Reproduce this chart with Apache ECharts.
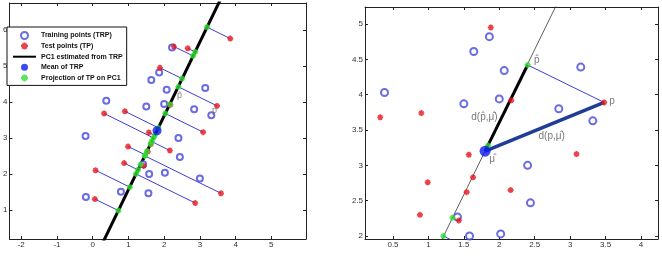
<!DOCTYPE html>
<html>
<head>
<meta charset="utf-8">
<script src="https://cdn.jsdelivr.net/npm/echarts@6/dist/echarts.min.js"></script>
<style>
  html, body { margin: 0; padding: 0; background: #fff; }
  #chart { width: 662px; height: 259px; }
</style>
</head>
<body>
<div id="chart"></div>
<script>
// training points (TRP)
const trainPoints = [
  [-0.2, 3.05], [-0.19, 1.36], [0.38, 4.03], [0.79, 1.5], [1.5, 3.87],
  [1.56, 1.46], [1.58, 2.0], [1.64, 4.61], [1.86, 4.82], [2.0, 3.94],
  [2.02, 2.03], [2.07, 4.34], [2.22, 5.51], [2.4, 3.0], [2.44, 2.47],
  [2.84, 3.8], [3.0, 1.87], [3.15, 4.39], [3.32, 3.63], [1.41, 2.27]
];
// test points (TP)
const testPoints = [
  [3.85, 5.76], [2.27, 5.54], [2.66, 5.49], [1.88, 4.95], [2.17, 3.92],
  [3.48, 3.89], [0.9, 3.74], [0.32, 3.68], [1.57, 3.15], [3.09, 3.16],
  [2.16, 2.65], [1.63, 2.83], [0.99, 2.76], [1.54, 2.62], [0.88, 2.3],
  [1.43, 2.22], [0.08, 2.1], [3.59, 1.46], [0.06, 1.3], [2.87, 1.19]
];
// green projections on PC1, same order as testPoints
const projPoints = [
  [3.2, 6.08], [2.81, 5.28], [2.87, 5.39], [2.5, 4.65], [2.16, 3.93],
  [2.4, 4.42], [1.84, 3.28], [1.7, 3.0], [1.74, 3.07], [2.03, 3.68],
  [1.65, 2.9], [1.62, 2.83], [1.47, 2.53], [1.52, 2.63], [1.27, 2.11],
  [1.34, 2.26], [1.04, 1.63], [1.46, 2.5], [0.72, 0.98], [1.21, 2.0]
];
const meanPoint = [1.8, 3.2];
const pc1Ends = [[0.24, 0], [3.65, 7]];
// which projections show up in the zoomed panel, and which one is p
const zoomProj = [5, 6, 15, 19];
const zoomLines = [15, 19];
const pIdx = 5;

const leftXTicks = [-2, -1, 0, 1, 2, 3, 4, 5];
const leftYTicks = [1, 2, 3, 4, 5, 6];
const rightXTicks = [0.5, 1, 1.5, 2, 2.5, 3, 3.5, 4];
const rightYTicks = [2, 2.5, 3, 3.5, 4, 4.5, 5];

const leftTexts = [
  { name: 'p\u0302', value: [2.43, 4.17] },
  { name: 'p', value: [3.41, 3.75] }
];
const rightTexts = [
  { name: 'p\u0302', value: [2.53, 4.49] },
  { name: 'p', value: [3.59, 3.9] },
  { name: '\u03bc\u0302', value: [1.9, 3.08] },
  { name: 'd(p\u0302,\u03bc\u0302)', value: [1.79, 3.68] },
  { name: 'd(p,\u03bc\u0302)', value: [2.74, 3.41] }
];

const FONT = '"Liberation Sans", Arial, sans-serif';
const STAR = 'path://M3.6,0h2.8v10h-2.8z M0,3.6h10v2.8h-10z M0.6,2.6L2.6,0.6L9.4,7.4L7.4,9.4z M7.4,0.6L9.4,2.6L2.6,9.4L0.6,7.4z';
const BLUE_LINE = '#3c3cd8';
const RED = '#e5141c';
const GREEN = '#30e030';
const CIRCLE = '#4646dc';

function ax(grid, min, max, ticks, pos) {
  return {
    type: 'value', gridIndex: grid, min: min, max: max, position: pos,
    axisLine: { show: true, onZero: false, lineStyle: { color: '#222', width: 1 } },
    axisTick: { show: true, inside: true, length: 3, customValues: ticks, lineStyle: { color: '#222' } },
    axisLabel: { show: pos === 'bottom' || pos === 'left', customValues: ticks,
                 margin: 2, fontSize: 8, color: '#333', fontFamily: FONT },
    splitLine: { show: false }
  };
}

function segs(idx) {
  return idx.map(i => ({ coords: [testPoints[i], projPoints[i]] }));
}

const allIdx = testPoints.map((_, i) => i);

const option = {
  animation: false,
  grid: [
    { left: 7, top: 3, width: 299, height: 236, show: false },
    { left: 365, top: 7, width: 293, height: 232, show: false }
  ],
  xAxis: [
    ax(0, -2.33, 5.97, leftXTicks, 'bottom'),
    ax(0, -2.33, 5.97, leftXTicks, 'top'),
    ax(1, 0.105, 4.24, rightXTicks, 'bottom'),
    ax(1, 0.105, 4.24, rightXTicks, 'top')
  ],
  yAxis: [
    ax(0, 0.19, 6.75, leftYTicks, 'left'),
    ax(0, 0.19, 6.75, leftYTicks, 'right'),
    ax(1, 1.958, 5.24, rightYTicks, 'left'),
    ax(1, 1.958, 5.24, rightYTicks, 'right')
  ],
  legend: {
    orient: 'vertical', left: 7, top: 27,
    padding: [4, 4, 3, 5], itemGap: 1.6, itemWidth: 23, itemHeight: 7,
    backgroundColor: '#fff', borderColor: '#111', borderWidth: 1, borderRadius: 0,
    textStyle: { fontSize: 7, fontWeight: 'bold', color: '#111', fontFamily: FONT, lineHeight: 9 },
    data: ['Training points (TRP)', 'Test points (TP)', 'PC1 estimated from TRP',
           'Mean of TRP', 'Projection of TP on PC1']
  },
  series: [
    // ---- left panel ----
    { type: 'lines', coordinateSystem: 'cartesian2d', xAxisIndex: 0, yAxisIndex: 0,
      clip: true, silent: true, z: 2,
      lineStyle: { color: BLUE_LINE, width: 1, opacity: 1 }, data: segs(allIdx) },
    { name: 'PC1 estimated from TRP', type: 'line', xAxisIndex: 0, yAxisIndex: 0,
      data: pc1Ends, symbol: 'none', clip: true, z: 3,
      lineStyle: { color: '#000', width: 3 }, itemStyle: { color: '#000', opacity: 0 } },
    { name: 'Training points (TRP)', type: 'scatter', xAxisIndex: 0, yAxisIndex: 0,
      data: trainPoints, symbol: 'emptyCircle', symbolSize: 6, z: 4,
      itemStyle: { color: CIRCLE, borderColor: CIRCLE, borderWidth: 1 } },
    { name: 'Test points (TP)', type: 'scatter', xAxisIndex: 0, yAxisIndex: 0,
      data: testPoints, symbol: STAR, symbolSize: 6, z: 5, itemStyle: { color: RED } },
    { name: 'Projection of TP on PC1', type: 'scatter', xAxisIndex: 0, yAxisIndex: 0,
      data: projPoints, symbol: STAR, symbolSize: 6, z: 5, itemStyle: { color: GREEN } },
    { name: 'Mean of TRP', type: 'scatter', xAxisIndex: 0, yAxisIndex: 0,
      data: [meanPoint], symbol: 'circle', symbolSize: 9, z: 6, itemStyle: { color: '#0a1af0' } },
    { type: 'scatter', xAxisIndex: 0, yAxisIndex: 0, data: leftTexts, symbolSize: 0, z: 7,
      label: { show: true, position: 'inside', formatter: '{b}', fontSize: 9, color: '#666', fontFamily: FONT } },

    // ---- right panel (zoom) ----
    { type: 'line', xAxisIndex: 2, yAxisIndex: 2, data: pc1Ends, symbol: 'none', clip: true, z: 2,
      lineStyle: { color: '#333', width: 0.8 } },
    { type: 'lines', coordinateSystem: 'cartesian2d', xAxisIndex: 2, yAxisIndex: 2,
      clip: true, silent: true, z: 2,
      lineStyle: { color: BLUE_LINE, width: 1, opacity: 1 }, data: segs(zoomLines.concat([pIdx])) },
    { type: 'line', xAxisIndex: 2, yAxisIndex: 2, data: [meanPoint, projPoints[pIdx]],
      symbol: 'none', z: 3, lineStyle: { color: '#000', width: 3 } },
    { type: 'line', xAxisIndex: 2, yAxisIndex: 2, data: [meanPoint, testPoints[pIdx]],
      symbol: 'none', z: 3, lineStyle: { color: '#1f3c96', width: 3.5 } },
    { type: 'scatter', xAxisIndex: 2, yAxisIndex: 2, data: trainPoints, clip: true,
      symbol: 'emptyCircle', symbolSize: 7, z: 4,
      itemStyle: { color: CIRCLE, borderColor: CIRCLE, borderWidth: 1 } },
    { type: 'scatter', xAxisIndex: 2, yAxisIndex: 2, data: testPoints, clip: true,
      symbol: STAR, symbolSize: 6, z: 5, itemStyle: { color: RED } },
    { type: 'scatter', xAxisIndex: 2, yAxisIndex: 2, data: zoomProj.map(i => projPoints[i]), clip: true,
      symbol: STAR, symbolSize: 6, z: 5, itemStyle: { color: GREEN } },
    { type: 'scatter', xAxisIndex: 2, yAxisIndex: 2, data: [meanPoint],
      symbol: 'circle', symbolSize: 11, z: 6, itemStyle: { color: '#0a1af0' } },
    { type: 'scatter', xAxisIndex: 2, yAxisIndex: 2, data: rightTexts, symbolSize: 0, z: 7,
      label: { show: true, position: 'inside', formatter: '{b}', fontSize: 10, color: '#555', fontFamily: FONT } }
  ]
};

const chart = echarts.init(document.getElementById('chart'), null, { renderer: 'canvas' });
chart.setOption(option);
</script>
</body>
</html>
